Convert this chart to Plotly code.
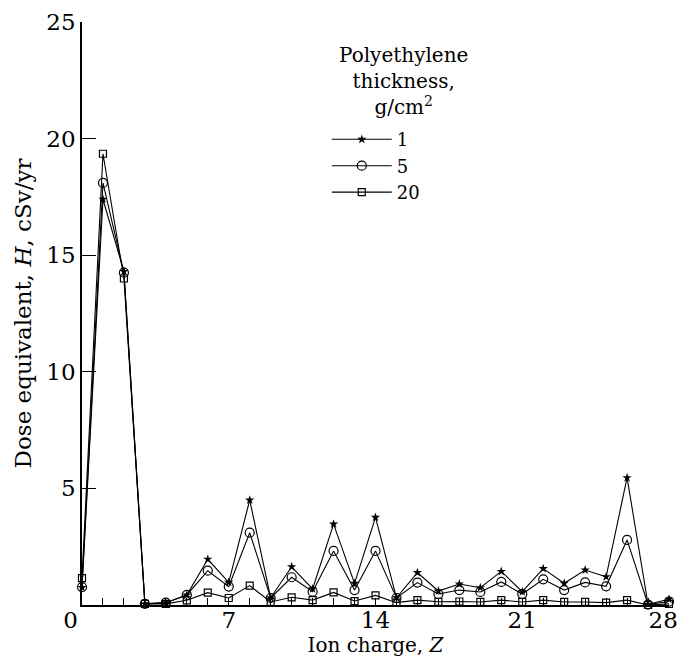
import plotly.graph_objects as go

Z = list(range(0, 29))
H_1 = [0.75, 17.4, 14.3, 0.05, 0.1, 0.43, 1.96, 0.97, 4.5, 0.31, 1.64, 0.69, 3.47, 0.93, 3.76,
       0.31, 1.39, 0.6, 0.9, 0.74, 1.44, 0.57, 1.56, 0.93, 1.5, 1.21, 5.46, 0.03, 0.25]
H_5 = [0.77, 18.1, 14.25, 0.05, 0.1, 0.43, 1.47, 0.79, 3.1, 0.3, 1.19, 0.57, 2.32, 0.64, 2.32,
       0.3, 0.96, 0.47, 0.64, 0.56, 0.99, 0.47, 1.1, 0.64, 0.97, 0.8, 2.79, 0.02, 0.15]
H_20 = [1.15, 19.35, 14.0, 0.05, 0.05, 0.2, 0.53, 0.3, 0.83, 0.13, 0.33, 0.21, 0.54, 0.17, 0.41,
        0.1, 0.21, 0.14, 0.15, 0.13, 0.21, 0.13, 0.21, 0.13, 0.13, 0.1, 0.21, 0.0, 0.05]
names = ["1", "5", "20"]
x_ticks = [0, 7, 14, 21, 28]
x_ticktext = ["0\u2003", "7", "14", "21", "28\u2002"]
y_ticks = [0, 5, 10, 15, 20, 25]
y_ticktext = ["", "5", "10", "15", "20", "25"]

FONT = "DejaVu Serif"

fig = go.Figure()
fig.add_trace(go.Scatter(x=Z, y=H_1, name=names[0], mode="lines+markers",
                         line=dict(color="black", width=1.1),
                         marker=dict(symbol="star", size=7, color="black"),
                         cliponaxis=False))
fig.add_trace(go.Scatter(x=Z, y=H_5, name=names[1], mode="lines+markers",
                         line=dict(color="black", width=1.1),
                         marker=dict(symbol="circle-open", size=9, color="black",
                                     line=dict(width=1.2)),
                         cliponaxis=False))
fig.add_trace(go.Scatter(x=Z, y=H_20, name=names[2], mode="lines+markers",
                         line=dict(color="black", width=1.1),
                         marker=dict(symbol="square-open", size=7, color="black",
                                     line=dict(width=1.2)),
                         cliponaxis=False))

fig.add_annotation(text="Polyethylene<br>thickness,<br>g/cm<sup>2</sup>",
                   xref="paper", yref="paper", x=0.548, y=0.967,
                   xanchor="center", yanchor="top", align="center", showarrow=False,
                   font=dict(family=FONT, size=20, color="black"))

fig.update_layout(
    width=680, height=665,
    margin=dict(l=82, r=11, t=22, b=60),
    paper_bgcolor="white", plot_bgcolor="white",
    font=dict(family=FONT, size=20, color="black"),
    showlegend=True,
    legend=dict(
        x=0.417, y=0.83, xanchor="left", yanchor="top",
        bgcolor="rgba(0,0,0,0)", font=dict(family=FONT, size=18),
        tracegroupgap=0, itemwidth=60,
    ),
    xaxis=dict(
        range=[0, 28], tickmode="array", tickvals=x_ticks, ticktext=x_ticktext,
        ticks="inside", ticklen=7, tickwidth=1, tickcolor="black",
        minor=dict(dtick=1, ticks="inside", ticklen=7, tickwidth=1, tickcolor="black"),
        showline=True, linecolor="black", linewidth=1.5, showgrid=False, zeroline=False,
        title=dict(text="Ion charge, <i>Z</i>", font=dict(family=FONT, size=20), standoff=0),
        tickfont=dict(family=FONT, size=23), automargin=False, ticklabeloverflow="allow",
        ticklabelstandoff=-6,
    ),
    yaxis=dict(
        range=[0, 25], tickmode="array", tickvals=y_ticks, ticktext=y_ticktext,
        ticks="inside", ticklen=14, tickwidth=1, tickcolor="black",
        showline=True, linecolor="black", linewidth=1.5, showgrid=False, zeroline=False,
        title=dict(text="Dose equivalent, <i>H</i>, cSv/yr", font=dict(family=FONT, size=23), standoff=8),
        tickfont=dict(family=FONT, size=23), automargin=False,
    ),
)

fig.write_html("out.html")
